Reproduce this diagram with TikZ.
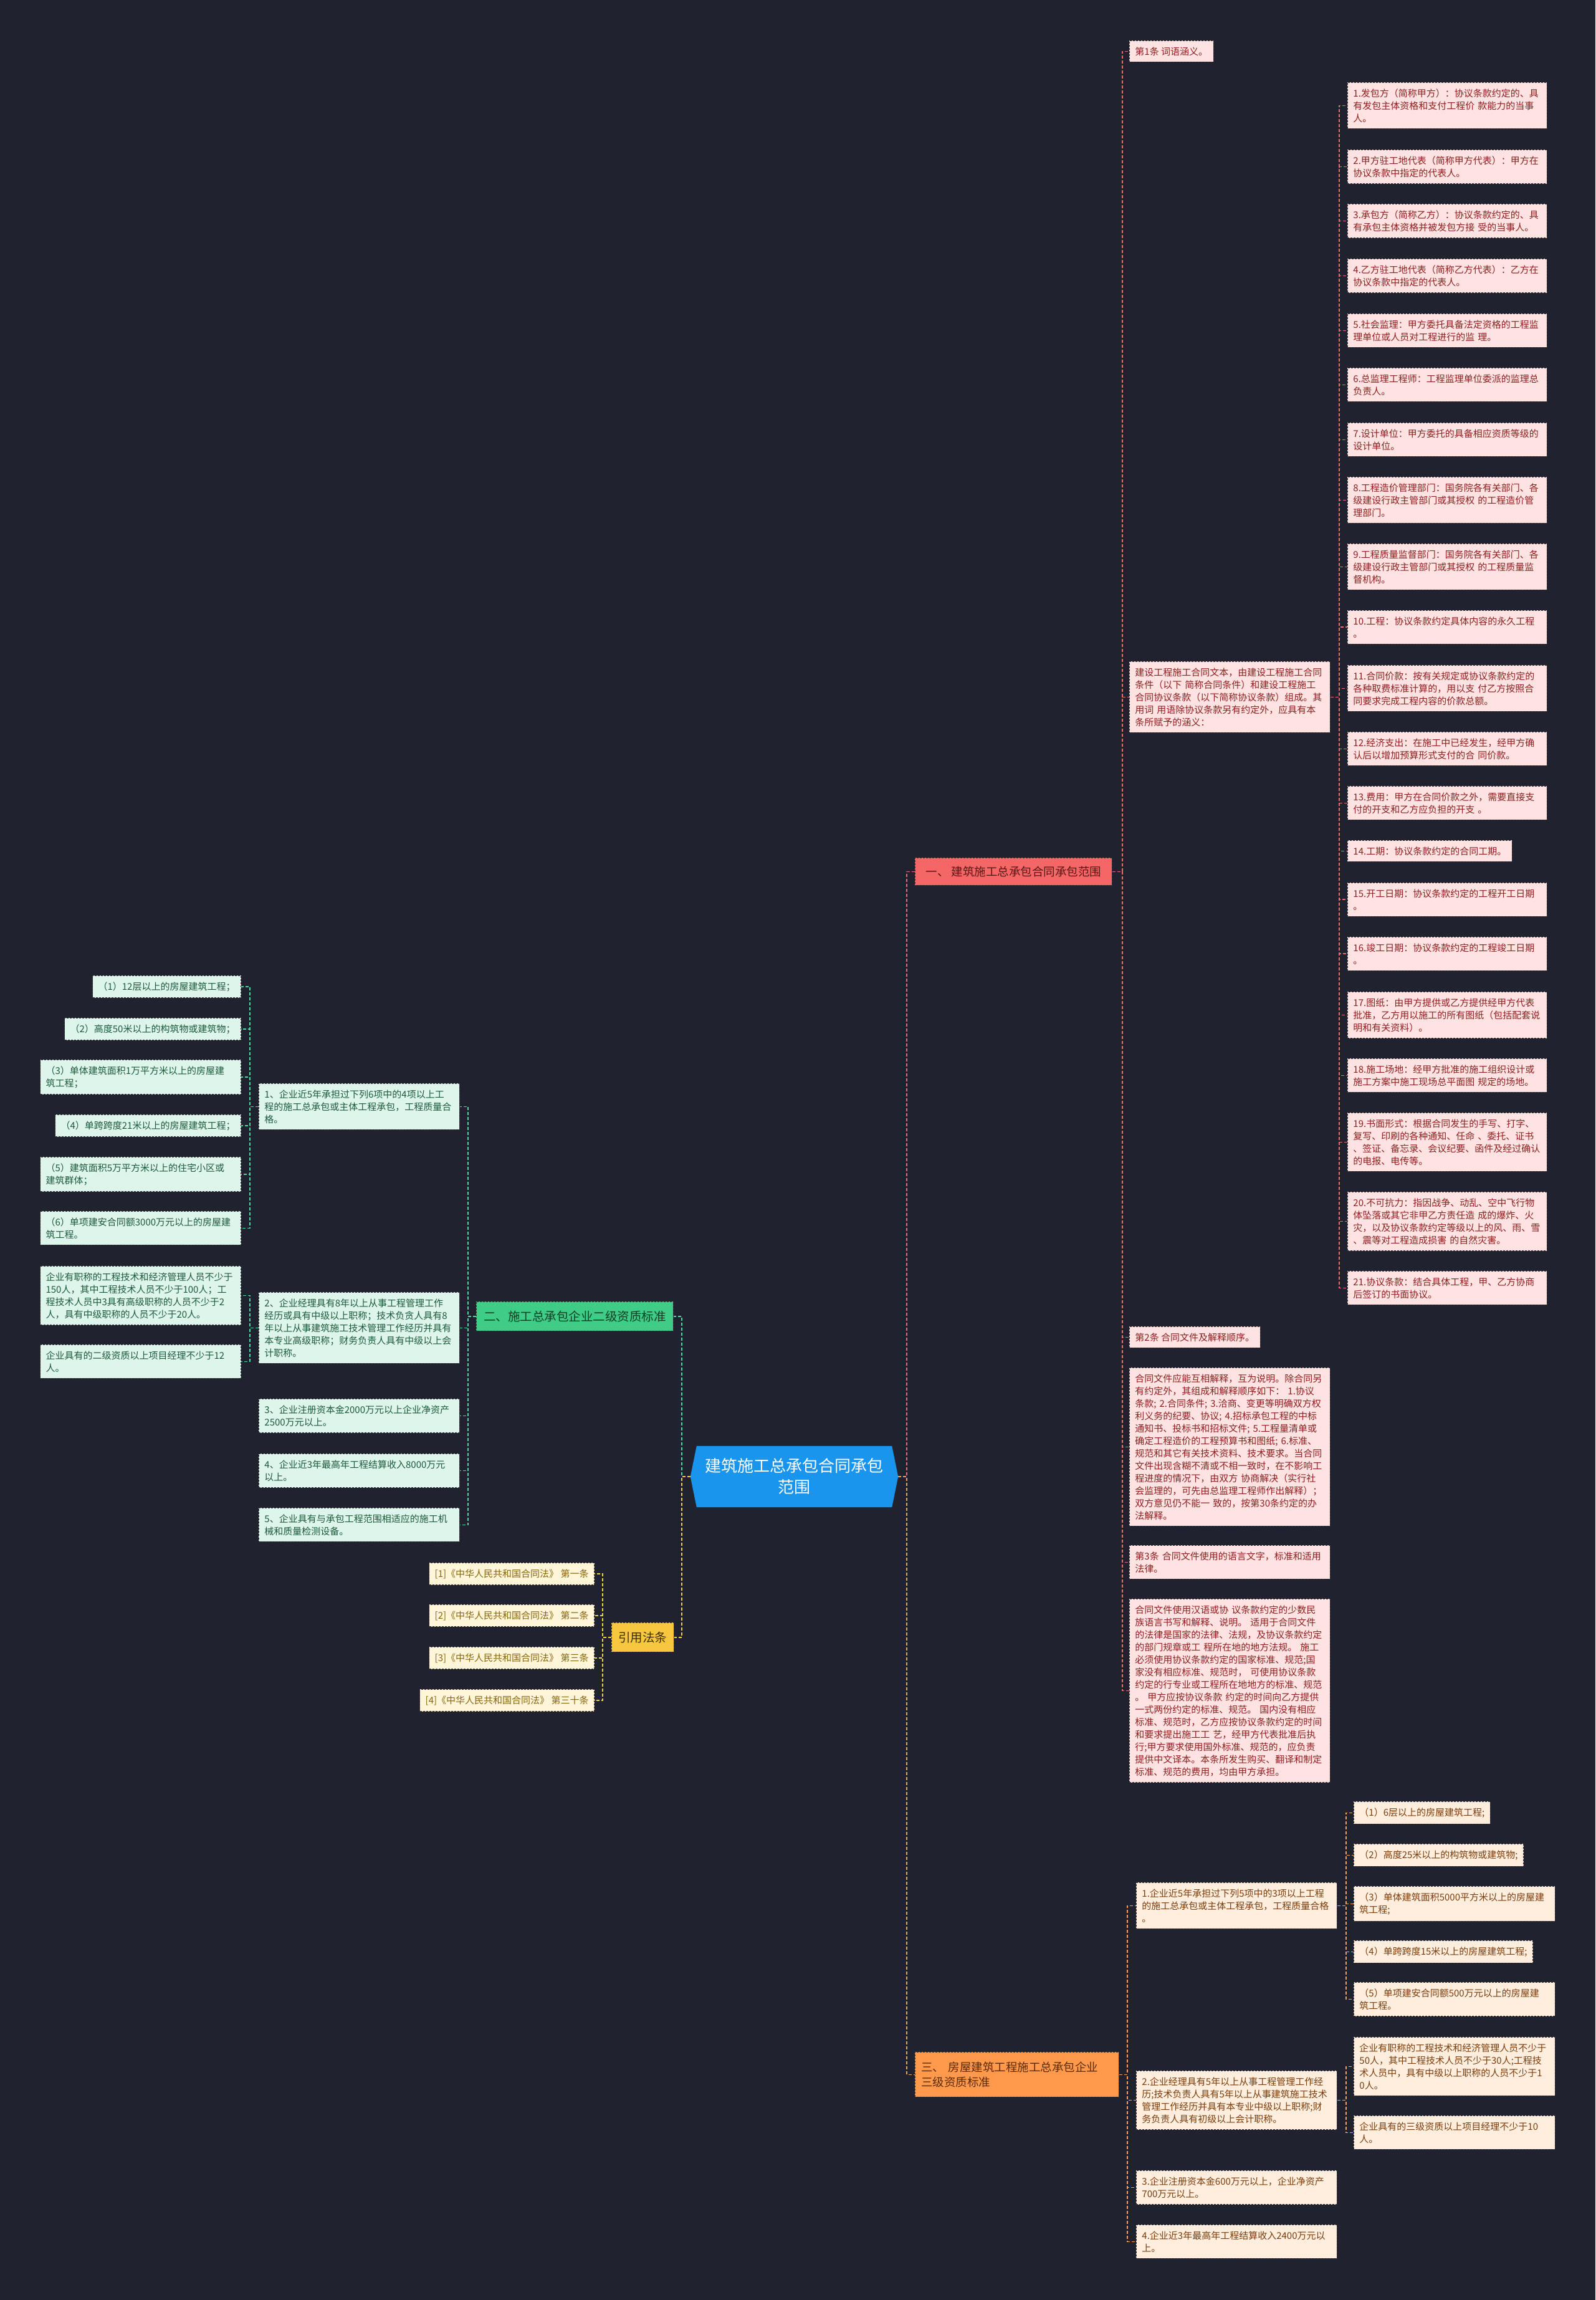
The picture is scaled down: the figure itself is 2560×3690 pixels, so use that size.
\documentclass[tikz,border=0pt]{standalone}
\usepackage{fontspec}
\setmainfont{Noto Sans CJK SC}
\usetikzlibrary{calc}
\definecolor{bgc}{HTML}{20232F}
\definecolor{rootc}{HTML}{1A95EE}
\definecolor{redN}{HTML}{F56767}\definecolor{redNT}{HTML}{5A1616}
\definecolor{redL}{HTML}{FFE3E3}\definecolor{redLT}{HTML}{8E1F1F}
\definecolor{redC}{HTML}{E56E6E}
\definecolor{grnN}{HTML}{3ECC86}\definecolor{grnNT}{HTML}{0E3F26}
\definecolor{grnL}{HTML}{DDF5EA}\definecolor{grnLT}{HTML}{1D5A3C}
\definecolor{grnC}{HTML}{4FD6A1}
\definecolor{ylwN}{HTML}{F8C740}\definecolor{ylwNT}{HTML}{3A2D00}
\definecolor{ylwL}{HTML}{FFF5D8}\definecolor{ylwLT}{HTML}{86650C}
\definecolor{ylwC}{HTML}{F4D04B}
\definecolor{orgN}{HTML}{FF9A4D}\definecolor{orgNT}{HTML}{5B2A04}
\definecolor{orgL}{HTML}{FFEEDD}\definecolor{orgLT}{HTML}{7B3D0C}
\definecolor{orgC}{HTML}{F5A15C}
\definecolor{boxline}{HTML}{3A3434}
\pgfdeclarelayer{back}
\pgfsetlayers{back,main}
\tikzset{
  box/.style={anchor=north west, draw=boxline, dash pattern=on 3pt off 2pt, line width=0.9pt,
    inner xsep=9pt, inner ysep=10pt, align=left, font={\fontsize{15}{20}\selectfont}},
  boxE/.style={box, anchor=north east},
  lr/.style={box, fill=redL, text=redLT},
  lg/.style={box, fill=grnL, text=grnLT},
  lgE/.style={boxE, fill=grnL, text=grnLT},
  ly/.style={boxE, fill=ylwL, text=ylwLT},
  lo/.style={box, fill=orgL, text=orgLT},
  wide/.style={text width=304pt},
  branch/.style={anchor=north west, draw=boxline, dash pattern=on 3pt off 2pt, line width=0.9pt,
    inner xsep=10pt, inner ysep=4pt},
  conn/.style={dash pattern=on 5pt off 3pt, line width=1.6pt},
}
\begin{document}
\begin{tikzpicture}[x=1pt,y=-1pt]
\useasboundingbox (0,0) rectangle (2560,3690);
\begin{pgfonlayer}{back}
\fill[bgc] (0,0) rectangle (2560,3690);
\end{pgfonlayer}

% root
\node[minimum width=333pt, minimum height=98pt, inner sep=0pt, text=white, align=center,
  font={\fontsize{26}{34}\selectfont}] (root) at (1274.5,2369) {建筑施工总承包合同承包\\范围};
\begin{pgfonlayer}{back}
\fill[rootc] ([xshift=10pt]root.north west) -- ([xshift=-10pt]root.north east) -- (root.east)
  -- ([xshift=-10pt]root.south east) -- ([xshift=10pt]root.south west) -- (root.west) -- cycle;
\end{pgfonlayer}

% branches
\node[branch, fill=redN, text=redNT, minimum width=316pt, minimum height=44pt,
  font={\fontsize{18.5}{24}\selectfont}] (n1) at (1468,1376) {一、 建筑施工总承包合同承包范围};
\node[branch, fill=grnN, text=grnNT, minimum width=316pt, minimum height=47pt,
  font={\fontsize{19.5}{24}\selectfont}] (n2) at (764,2088) {二、施工总承包企业二级资质标准};
\node[branch, fill=ylwN, text=ylwNT, minimum width=100pt, minimum height=47pt,
  font={\fontsize{19.5}{24}\selectfont}] (n4) at (981,2603) {引用法条};
\node[branch, fill=orgN, text=orgNT, minimum width=327pt, minimum height=72pt, align=left,
  text width=307pt, font={\fontsize{18.5}{24}\selectfont}] (n3) at (1468,3292) {三、 房屋建筑工程施工总承包企业\\三级资质标准};

% red level 2
\node[lr] (ra) at (1812,65) {第1条 词语涵义。};
\node[lr, wide] (rb) at (1812,1061) {建设工程施工合同文本，由建设工程施工合同\\条件（以下 简称合同条件）和建设工程施工\\合同协议条款（以下简称协议条款）组成。其\\用词 用语除协议条款另有约定外，应具有本\\条所赋予的涵义：};
\node[lr] (rc) at (1812,2128) {第2条 合同文件及解释顺序。};
\node[lr, wide] (rd) at (1812,2194) {合同文件应能互相解释，互为说明。除合同另\\有约定外，其组成和解释顺序如下： 1.协议\\条款; 2.合同条件; 3.洽商、变更等明确双方权\\利义务的纪要、协议; 4.招标承包工程的中标\\通知书、投标书和招标文件; 5.工程量清单或\\确定工程造价的工程预算书和图纸; 6.标准、\\规范和其它有关技术资料、技术要求。当合同\\文件出现含糊不清或不相一致时，在不影响工\\程进度的情况下，由双方 协商解决（实行社\\会监理的，可先由总监理工程师作出解释）；\\双方意见仍不能一 致的，按第30条约定的办\\法解释。};
\node[lr, wide] (re) at (1812,2479) {第3条 合同文件使用的语言文字，标准和适用\\法律。};
\node[lr, wide] (rf) at (1812,2565) {合同文件使用汉语或协 议条款约定的少数民\\族语言书写和解释、说明。 适用于合同文件\\的法律是国家的法律、法规，及协议条款约定\\的部门规章或工 程所在地的地方法规。 施工\\必须使用协议条款约定的国家标准、规范;国\\家没有相应标准、规范时， 可使用协议条款\\约定的行专业或工程所在地地方的标准、规范\\。 甲方应按协议条款 约定的时间向乙方提供\\一式两份约定的标准、规范。 国内没有相应\\标准、规范时，乙方应按协议条款约定的时间\\和要求提出施工工 艺，经甲方代表批准后执\\行;甲方要求使用国外标准、规范的，应负责\\提供中文译本。本条所发生购买、翻译和制定\\标准、规范的费用，均由甲方承担。};

% red level 3
\tikzset{rl/.style={lr, text width=302pt}}
\node[rl] (L1) at (2162,132) {1.发包方（简称甲方）：协议条款约定的、具\\有发包主体资格和支付工程价 款能力的当事\\人。};
\node[rl] (L2) at (2162,240) {2.甲方驻工地代表（简称甲方代表）：甲方在\\协议条款中指定的代表人。};
\node[rl] (L3) at (2162,327) {3.承包方（简称乙方）：协议条款约定的、具\\有承包主体资格并被发包方接 受的当事人。};
\node[rl] (L4) at (2162,415) {4.乙方驻工地代表（简称乙方代表）：乙方在\\协议条款中指定的代表人。};
\node[rl] (L5) at (2162,503) {5.社会监理：甲方委托具备法定资格的工程监\\理单位或人员对工程进行的监 理。};
\node[rl] (L6) at (2162,590) {6.总监理工程师：工程监理单位委派的监理总\\负责人。};
\node[rl] (L7) at (2162,678) {7.设计单位：甲方委托的具备相应资质等级的\\设计单位。};
\node[rl] (L8) at (2162,765) {8.工程造价管理部门：国务院各有关部门、各\\级建设行政主管部门或其授权 的工程造价管\\理部门。};
\node[rl] (L9) at (2162,872) {9.工程质量监督部门：国务院各有关部门、各\\级建设行政主管部门或其授权 的工程质量监\\督机构。};
\node[rl] (L10) at (2162,979) {10.工程：协议条款约定具体内容的永久工程\\。};
\node[rl] (L11) at (2162,1067) {11.合同价款：按有关规定或协议条款约定的\\各种取费标准计算的，用以支 付乙方按照合\\同要求完成工程内容的价款总额。};
\node[rl] (L12) at (2162,1174) {12.经济支出：在施工中已经发生，经甲方确\\认后以增加预算形式支付的合 同价款。};
\node[rl] (L13) at (2162,1261) {13.费用：甲方在合同价款之外，需要直接支\\付的开支和乙方应负担的开支 。};
\node[lr] (L14) at (2162,1348) {14.工期：协议条款约定的合同工期。};
\node[rl] (L15) at (2162,1416) {15.开工日期：协议条款约定的工程开工日期\\。};
\node[rl] (L16) at (2162,1503) {16.竣工日期：协议条款约定的工程竣工日期\\。};
\node[rl] (L17) at (2162,1591) {17.图纸：由甲方提供或乙方提供经甲方代表\\批准，乙方用以施工的所有图纸（包括配套说\\明和有关资料）。};
\node[rl] (L18) at (2162,1698) {18.施工场地：经甲方批准的施工组织设计或\\施工方案中施工现场总平面图 规定的场地。};
\node[rl] (L19) at (2162,1785) {19.书面形式：根据合同发生的手写、打字、\\复写、印刷的各种通知、任命 、委托、证书\\、签证、备忘录、会议纪要、函件及经过确认\\的电报、电传等。};
\node[rl] (L20) at (2162,1912) {20.不可抗力：指因战争、动乱、空中飞行物\\体坠落或其它非甲乙方责任造 成的爆炸、火\\灾，以及协议条款约定等级以上的风、雨、雪\\、震等对工程造成损害 的自然灾害。};
\node[rl] (L21) at (2162,2039) {21.协议条款：结合具体工程，甲、乙方协商\\后签订的书面协议。};

% green level 2
\node[lg, wide] (g1) at (415,1738) {1、企业近5年承担过下列6项中的4项以上工\\程的施工总承包或主体工程承包，工程质量合\\格。};
\node[lg, wide] (g2) at (415,2073) {2、企业经理具有8年以上从事工程管理工作\\经历或具有中级以上职称；技术负贪人具有8\\年以上从事建筑施工技术管理工作经历并具有\\本专业高级职称；财务负责人具有中级以上会\\计职称。};
\node[lg, wide] (g3) at (415,2244) {3、企业注册资本金2000万元以上企业净资产\\2500万元以上。};
\node[lg, wide] (g4) at (415,2332) {4、企业近3年最高年工程结算收入8000万元\\以上。};
\node[lg, wide] (g5) at (415,2419) {5、企业具有与承包工程范围相适应的施工机\\械和质量检测设备。};

% green level 3
\node[lgE] (g11) at (387,1565) {（1）12层以上的房屋建筑工程；};
\node[lgE] (g12) at (387,1633) {（2）高度50米以上的构筑物或建筑物；};
\node[lgE, wide] (g13) at (387,1700) {（3）单体建筑面积1万平方米以上的房屋建\\筑工程；};
\node[lgE] (g14) at (387,1788) {（4）单跨跨度21米以上的房屋建筑工程；};
\node[lgE, wide] (g15) at (387,1856) {（5）建筑面积5万平方米以上的住宅小区或\\建筑群体；};
\node[lgE, wide] (g16) at (387,1943) {（6）单项建安合同额3000万元以上的房屋建\\筑工程。};
\node[lgE, wide] (g21) at (387,2031) {企业有职称的工程技术和经济管理人员不少于\\150人，其中工程技术人员不少于100人；工\\程技术人员中3具有高级职称的人员不少于2\\人，具有中级职称的人员不少于20人。};
\node[lgE, wide] (g22) at (387,2157) {企业具有的二级资质以上项目经理不少于12\\人。};

% yellow
\node[ly] (y1) at (954,2507) {[1]《中华人民共和国合同法》 第一条};
\node[ly] (y2) at (954,2574) {[2]《中华人民共和国合同法》 第二条};
\node[ly] (y3) at (954,2642) {[3]《中华人民共和国合同法》 第三条};
\node[ly] (y4) at (954,2710) {[4]《中华人民共和国合同法》 第三十条};

% orange level 2
\node[lo, wide] (o1) at (1823,3020) {1.企业近5年承担过下列5项中的3项以上工程\\的施工总承包或主体工程承包，工程质量合格\\。};
\node[lo, wide] (o2) at (1823,3322) {2.企业经理具有5年以上从事工程管理工作经\\历;技术负责人具有5年以上从事建筑施工技术\\管理工作经历并具有本专业中级以上职称;财\\务负责人具有初级以上会计职称。};
\node[lo, wide] (o3) at (1823,3482) {3.企业注册资本金600万元以上，企业净资产\\700万元以上。};
\node[lo, wide] (o4) at (1823,3569) {4.企业近3年最高年工程结算收入2400万元以\\上。};

% orange level 3
\node[lo] (o11) at (2172,2890) {（1）6层以上的房屋建筑工程;};
\node[lo] (o12) at (2172,2958) {（2）高度25米以上的构筑物或建筑物;};
\node[lo, text width=305pt] (o13) at (2172,3026) {（3）单体建筑面积5000平方米以上的房屋建\\筑工程;};
\node[lo] (o14) at (2172,3113) {（4）单跨跨度15米以上的房屋建筑工程;};
\node[lo, text width=305pt] (o15) at (2172,3180) {（5）单项建安合同额500万元以上的房屋建\\筑工程。};
\node[lo, text width=305pt] (o21) at (2172,3268) {企业有职称的工程技术和经济管理人员不少于\\50人，其中工程技术人员不少于30人;工程技\\术人员中，具有中级以上职称的人员不少于1\\0人。};
\node[lo, text width=305pt] (o22) at (2172,3394) {企业具有的三级资质以上项目经理不少于10\\人。};

% connectors: root to branches
\draw[conn, redC] (root.east) -- ++(14,0) |- (n1.west);
\draw[conn, orgC] (root.east) -- ++(14,0) |- (n3.west);
\draw[conn, grnC] (root.west) -- ++(-14,0) |- (n2.east);
\draw[conn, ylwC] (root.west) -- ++(-14,0) |- (n4.east);

% red
\foreach \c in {ra,rb,rc,rd,re,rf} \draw[conn, redC] (n1.east) -- ++(16,0) |- (\c.west);
\foreach \i in {1,...,21} \draw[conn, redC] (rb.east) -- ++(14,0) |- (L\i.west);

% green
\foreach \c in {g1,g2,g3,g4,g5} \draw[conn, grnC] (n2.west) -- ++(-13,0) |- (\c.east);
\foreach \c in {g11,g12,g13,g14,g15,g16} \draw[conn, grnC] (g1.west) -- ++(-14,0) |- (\c.east);
\foreach \c in {g21,g22} \draw[conn, grnC] (g2.west) -- ++(-14,0) |- (\c.east);

% yellow
\foreach \c in {y1,y2,y3,y4} \draw[conn, ylwC] (n4.west) -- ++(-14,0) |- (\c.east);

% orange
\foreach \c in {o1,o2,o3,o4} \draw[conn, orgC] (n3.east) -- ++(13,0) |- (\c.west);
\foreach \c in {o11,o12,o13,o14,o15} \draw[conn, orgC] (o1.east) -- ++(14,0) |- (\c.west);
\foreach \c in {o21,o22} \draw[conn, orgC] (o2.east) -- ++(14,0) |- (\c.west);
\end{tikzpicture}
\end{document}
